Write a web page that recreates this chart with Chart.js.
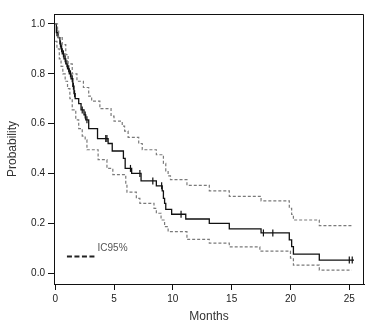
<!DOCTYPE html>
<html>
<head>
<meta charset="utf-8">
<script src="https://cdn.jsdelivr.net/npm/chart.js@4/dist/chart.umd.min.js"></script>
<style>
  body { margin: 0; background: #fff; }
  canvas { display: block; }
</style>
</head>
<body>
<canvas id="km-chart" width="375" height="327"></canvas>
<script>
// Kaplan-Meier estimate (months, survival probability), value holds until next step
const kmMonths = [0, 0.1, 0.25, 0.4, 0.5, 0.6, 0.75, 0.9, 1.05, 1.2, 1.35, 1.5, 1.6, 1.7, 2.0, 2.2, 2.45, 2.6, 2.85, 3.6, 4.5, 4.85, 5.8, 5.95, 6.5, 7.3, 8.6, 9.1, 9.2, 9.3, 9.4, 9.9, 11.1, 13.1, 14.8, 17.5, 19.9, 20.1, 20.25, 22.45, 25.4];
const kmProb = [1.0, 0.965, 0.945, 0.92, 0.9, 0.88, 0.86, 0.84, 0.82, 0.8, 0.78, 0.75, 0.72, 0.7, 0.68, 0.655, 0.635, 0.615, 0.58, 0.54, 0.52, 0.49, 0.46, 0.42, 0.4, 0.37, 0.35, 0.33, 0.3, 0.28, 0.256, 0.236, 0.217, 0.199, 0.177, 0.161, 0.133, 0.106, 0.076, 0.052, 0.052];

// censored observations
const censorMonths = [0.15, 0.45, 0.55, 0.7, 0.85, 1.0, 1.15, 1.3, 1.45, 1.55, 1.65, 2.3, 2.55, 2.7, 4.3, 4.4, 6.4, 7.2, 8.3, 9.05, 10.7, 17.7, 18.5, 25.0, 25.25];
const censorProb = [0.965, 0.92, 0.9, 0.88, 0.86, 0.84, 0.82, 0.8, 0.78, 0.75, 0.72, 0.655, 0.635, 0.615, 0.54, 0.54, 0.42, 0.4, 0.37, 0.35, 0.236, 0.161, 0.161, 0.052, 0.052];

// 95% confidence band
const upperMonths = [0, 0.2, 0.3, 0.6, 0.9, 1.1, 1.45, 1.85, 2.4, 2.85, 3.1, 3.8, 4.75, 5.0, 5.7, 5.9, 6.2, 7.1, 7.4, 8.6, 9.2, 9.4, 9.6, 9.8, 11.2, 13.1, 14.8, 17.5, 19.9, 20.1, 20.25, 22.45, 25.2];
const upperProb = [1.0, 0.98, 0.945, 0.917, 0.877, 0.84, 0.8, 0.77, 0.745, 0.71, 0.69, 0.66, 0.63, 0.61, 0.59, 0.57, 0.545, 0.52, 0.495, 0.475, 0.44, 0.41, 0.39, 0.375, 0.352, 0.33, 0.308, 0.29, 0.26, 0.235, 0.213, 0.19, 0.19];

const lowerMonths = [0, 0.15, 0.35, 0.5, 0.65, 0.85, 1.05, 1.25, 1.45, 1.75, 2.0, 2.3, 2.55, 2.7, 3.65, 4.4, 4.9, 6.0, 6.1, 6.9, 7.2, 8.4, 8.6, 9.0, 9.3, 9.6, 11.2, 13.1, 14.8, 17.4, 20.0, 20.25, 22.45, 25.2];
const lowerProb = [0.93, 0.9, 0.86, 0.83, 0.8, 0.77, 0.74, 0.7, 0.655, 0.615, 0.58, 0.55, 0.535, 0.495, 0.455, 0.42, 0.395, 0.355, 0.325, 0.3, 0.28, 0.26, 0.24, 0.213, 0.186, 0.166, 0.135, 0.12, 0.105, 0.088, 0.06, 0.032, 0.012, 0.012];

const xTicks = [0, 5, 10, 15, 20, 25];
const yTicks = [0, 0.2, 0.4, 0.6, 0.8, 1.0];
const legendLabel = 'IC95%';

function toPoints(xs, ys) {
  return xs.map((x, i) => ({ x: x, y: ys[i] }));
}

const FONT = '"Liberation Sans", Arial, sans-serif';

// box around the plot + the dashed legend sample
const framePlugin = {
  id: 'frame',
  afterDraw(chart) {
    const ctx = chart.ctx;
    const a = chart.chartArea;
    const xs = chart.scales.x;
    const ys = chart.scales.y;
    ctx.save();
    ctx.strokeStyle = '#111';
    ctx.lineWidth = 1;
    ctx.beginPath();
    ctx.moveTo(a.left, a.top + 0.5);
    ctx.lineTo(a.right - 0.5, a.top + 0.5);
    ctx.lineTo(a.right - 0.5, a.bottom);
    ctx.stroke();

    const ly = Math.round(ys.getPixelForValue(0.07)) + 0.5;
    ctx.strokeStyle = '#222';
    ctx.lineWidth = 2;
    ctx.setLineDash([5, 2.5]);
    ctx.beginPath();
    ctx.moveTo(xs.getPixelForValue(1.0), ly);
    ctx.lineTo(xs.getPixelForValue(3.5), ly);
    ctx.stroke();
    ctx.setLineDash([]);
    ctx.fillStyle = '#555';
    ctx.font = '10px ' + FONT;
    ctx.textBaseline = 'middle';
    ctx.fillText(legendLabel, xs.getPixelForValue(3.6), ys.getPixelForValue(0.1));
    ctx.restore();
  }
};

const ctx = document.getElementById('km-chart').getContext('2d');

new Chart(ctx, {
  type: 'line',
  data: {
    datasets: [
      {
        label: 'Upper',
        data: toPoints(upperMonths, upperProb),
        borderColor: '#7a7a7a',
        borderWidth: 1.2,
        borderDash: [3, 2],
        stepped: true,
        pointRadius: 0,
        fill: false
      },
      {
        label: 'Lower',
        data: toPoints(lowerMonths, lowerProb),
        borderColor: '#7a7a7a',
        borderWidth: 1.2,
        borderDash: [3, 2],
        stepped: true,
        pointRadius: 0,
        fill: false
      },
      {
        label: 'KM',
        data: toPoints(kmMonths, kmProb),
        borderColor: '#111',
        borderWidth: 1.3,
        stepped: true,
        pointRadius: 0,
        fill: false
      },
      {
        type: 'scatter',
        label: 'Censored',
        data: toPoints(censorMonths, censorProb),
        pointStyle: 'line',
        rotation: 90,
        pointRadius: 3.5,
        borderColor: '#111',
        borderWidth: 1.2,
        showLine: false
      }
    ]
  },
  options: {
    responsive: false,
    animation: false,
    layout: { padding: { left: 0, right: 11, top: 14, bottom: 0 } },
    plugins: {
      legend: { display: false },
      tooltip: { enabled: false }
    },
    scales: {
      x: {
        type: 'linear',
        min: -0.1,
        max: 26.25,
        afterBuildTicks: (scale) => { scale.ticks = xTicks.map(v => ({ value: v })); },
        afterFit: (scale) => { scale.height = 43; },
        grid: { drawOnChartArea: false, drawTicks: true, tickLength: 6, color: '#111' },
        border: { display: true, color: '#111', width: 1 },
        ticks: { color: '#222', padding: 3, font: { family: FONT, size: 10 }, maxRotation: 0 },
        title: {
          display: true,
          text: 'Months',
          color: '#333',
          font: { family: FONT, size: 12 },
          padding: { top: 0, bottom: 3 }
        }
      },
      y: {
        min: -0.044,
        max: 1.04,
        afterBuildTicks: (scale) => { scale.ticks = yTicks.map(v => ({ value: v })); },
        afterFit: (scale) => { scale.width = 54; },
        grid: { drawOnChartArea: false, drawTicks: true, tickLength: 6, color: '#111' },
        border: { display: true, color: '#111', width: 1 },
        ticks: {
          color: '#222',
          padding: 3,
          font: { family: FONT, size: 10 },
          callback: (v) => Number(v).toFixed(1)
        },
        title: {
          display: true,
          text: 'Probability',
          color: '#333',
          font: { family: FONT, size: 12 },
          padding: { top: 5, bottom: 0 }
        }
      }
    }
  },
  plugins: [framePlugin]
});
</script>
</body>
</html>
